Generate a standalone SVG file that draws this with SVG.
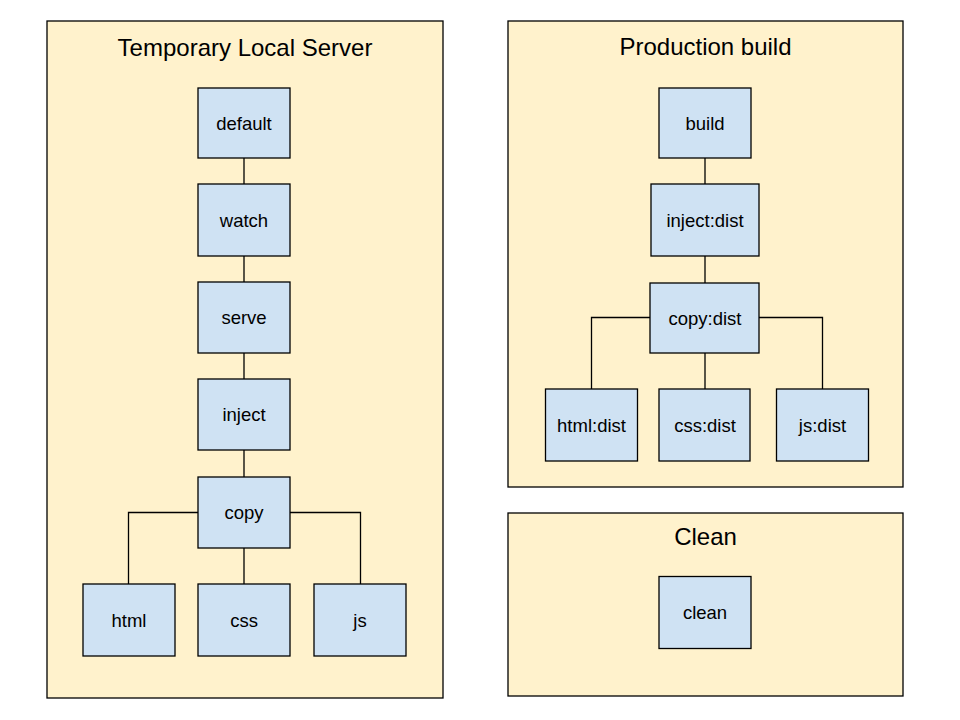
<svg xmlns="http://www.w3.org/2000/svg" width="960" height="720" viewBox="0 0 960 720">
<style>
.panel{fill:#fff2cc;stroke:#000;stroke-width:1.3}
.node rect{fill:#cfe2f3;stroke:#000;stroke-width:1.3}
.node text{font-family:"Liberation Sans",Arial,sans-serif;font-size:18.5px;fill:#000;text-anchor:middle}
.title{font-family:"Liberation Sans",Arial,sans-serif;font-size:24px;fill:#000;text-anchor:middle}
.conn path{fill:none;stroke:#000;stroke-width:1.3}
</style>
<rect width="960" height="720" fill="#fff"/>
<g id="panel-local"><rect class="panel" x="47" y="21" width="396" height="677"/><text class="title" x="245" y="56">Temporary Local Server</text></g>
<g id="panel-prod"><rect class="panel" x="508" y="21" width="395" height="466"/><text class="title" x="705.5" y="55">Production build</text></g>
<g id="panel-clean"><rect class="panel" x="508" y="513" width="395" height="183"/><text class="title" x="705.5" y="545">Clean</text></g>
<g id="connectors" class="conn">
<path d="M244 158V184M244 256V282M244 353V379M244 450V477M244 548V584M198 512.5H128.5V584M290 512.5H360.5V584"/>
<path d="M705 158V184M705 256V283M705 353V389M650 317.5H591.5V389M759 317.5H822.5V389"/>
</g>
<g id="default" class="node"><rect x="198" y="88" width="92" height="70"/><text x="244" y="129.5">default</text></g>
<g id="watch" class="node"><rect x="198" y="184" width="92" height="72"/><text x="244" y="226.5">watch</text></g>
<g id="serve" class="node"><rect x="198" y="282" width="92" height="71"/><text x="244" y="324">serve</text></g>
<g id="inject" class="node"><rect x="198" y="379" width="92" height="71"/><text x="244" y="421">inject</text></g>
<g id="copy" class="node"><rect x="198" y="477" width="92" height="71"/><text x="244" y="519">copy</text></g>
<g id="html" class="node"><rect x="83" y="584" width="92" height="72"/><text x="129" y="626.5">html</text></g>
<g id="css" class="node"><rect x="198" y="584" width="92" height="72"/><text x="244" y="626.5">css</text></g>
<g id="js" class="node"><rect x="314" y="584" width="92" height="72"/><text x="360" y="626.5">js</text></g>
<g id="build" class="node"><rect x="659" y="88" width="92" height="70"/><text x="705" y="129.5">build</text></g>
<g id="inject-dist" class="node"><rect x="651" y="184" width="108" height="72"/><text x="705" y="226.5">inject:dist</text></g>
<g id="copy-dist" class="node"><rect x="650" y="283" width="109" height="70"/><text x="705" y="324.5">copy:dist</text></g>
<g id="html-dist" class="node"><rect x="545.5" y="389" width="92" height="72"/><text x="591.5" y="431.5">html:dist</text></g>
<g id="css-dist" class="node"><rect x="659" y="389" width="91" height="72"/><text x="705" y="431.5">css:dist</text></g>
<g id="js-dist" class="node"><rect x="776.5" y="389" width="92" height="72"/><text x="822.5" y="431.5">js:dist</text></g>
<g id="clean" class="node"><rect x="659" y="576.5" width="92" height="72"/><text x="705" y="619">clean</text></g>
</svg>
